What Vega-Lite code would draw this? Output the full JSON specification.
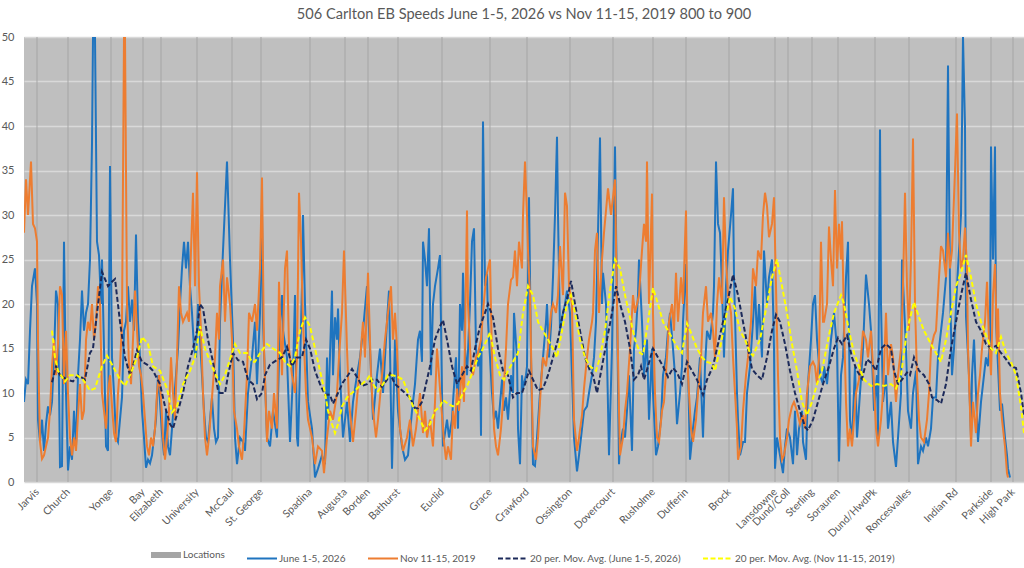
{
  "$schema": "https://vega.github.io/schema/vega-lite/v6.json",
  "width": 1000,
  "height": 445,
  "autosize": "none",
  "padding": {"left": 24, "top": 37, "right": 0, "bottom": 86},
  "background": "white",
  "title": {
    "text": "506 Carlton EB Speeds June 1-5, 2026 vs Nov 11-15, 2019 800 to 900",
    "font": "Lato",
    "fontSize": 14.6,
    "fontWeight": "normal",
    "color": "#595959",
    "anchor": "middle",
    "offset": 9
  },
  "config": {
    "font": "Lato",
    "view": {"fill": "#bfbfbf", "stroke": null},
    "axisX": {"labelOverlap": false}
  },
  "datasets": {
    "locations": [
      {"pos": 37, "name": "Jarvis"}, {"pos": 68, "name": "Church"}, {"pos": 111, "name": "Yonge"},
      {"pos": 143, "name": "Bay"}, {"pos": 161, "name": "Elizabeth"}, {"pos": 197, "name": "University"},
      {"pos": 232, "name": "McCaul"}, {"pos": 261, "name": "St. George"}, {"pos": 310, "name": "Spadina"},
      {"pos": 345, "name": "Augusta"}, {"pos": 368, "name": "Borden"}, {"pos": 398, "name": "Bathurst"},
      {"pos": 442, "name": "Euclid"}, {"pos": 490, "name": "Grace"}, {"pos": 527, "name": "Crawford"},
      {"pos": 570, "name": "Ossington"}, {"pos": 613, "name": "Dovercourt"}, {"pos": 653, "name": "Rusholme"},
      {"pos": 686, "name": "Dufferin"}, {"pos": 729, "name": "Brock"}, {"pos": 775, "name": "Lansdowne"},
      {"pos": 788, "name": "Dund/Coll"}, {"pos": 812, "name": "Sterling"}, {"pos": 838, "name": "Sorauren"},
      {"pos": 875, "name": "Dund/HwdPk"}, {"pos": 909, "name": "Roncesvalles"}, {"pos": 956, "name": "Indian Rd"},
      {"pos": 991, "name": "Parkside"}, {"pos": 1013, "name": "High Park"}
    ],
    "june": [
      {"pos":24,"v":9},{"pos":26,"v":11.5},{"pos":28,"v":11},{"pos":30,"v":17},{"pos":32,"v":22},{"pos":35,"v":24},{"pos":37,"v":20},{"pos":38,"v":7},{"pos":40,"v":4.5},{"pos":42,"v":7},{"pos":44,"v":3.5},{"pos":46,"v":6.5},{"pos":48,"v":8.5},{"pos":50,"v":7.5},{"pos":52,"v":9},{"pos":54,"v":14},{"pos":56,"v":21.5},{"pos":58,"v":20},{"pos":60,"v":1.7},{"pos":62,"v":1.8},{"pos":64,"v":27},{"pos":66,"v":10},{"pos":68,"v":1.3},{"pos":70,"v":4},{"pos":72,"v":2.5},{"pos":74,"v":8},{"pos":76,"v":4},{"pos":78,"v":12},{"pos":80,"v":16},{"pos":82,"v":21.5},{"pos":84,"v":17},{"pos":86,"v":19},{"pos":88,"v":20},{"pos":90,"v":25},{"pos":92,"v":38},{"pos":93,"v":50},{"pos":95,"v":50},{"pos":97,"v":27},{"pos":99,"v":25.5},{"pos":101,"v":20},{"pos":102,"v":25},{"pos":104,"v":15},{"pos":106,"v":4},{"pos":108,"v":3.5},{"pos":110,"v":35.5},{"pos":112,"v":14},{"pos":114,"v":10},{"pos":116,"v":5},{"pos":118,"v":4.5},{"pos":120,"v":7},{"pos":122,"v":9.5},{"pos":124,"v":17},{"pos":126,"v":18},{"pos":128,"v":22},{"pos":130,"v":18},{"pos":132,"v":20.5},{"pos":134,"v":17},{"pos":136,"v":27.8},{"pos":138,"v":18},{"pos":140,"v":14},{"pos":142,"v":8},{"pos":144,"v":5},{"pos":146,"v":1.6},{"pos":148,"v":2.5},{"pos":150,"v":2.1},{"pos":152,"v":3},{"pos":154,"v":5},{"pos":156,"v":7},{"pos":158,"v":12},{"pos":160,"v":9},{"pos":162,"v":5.5},{"pos":164,"v":3},{"pos":166,"v":8},{"pos":168,"v":4},{"pos":170,"v":3},{"pos":172,"v":6},{"pos":174,"v":9},{"pos":176,"v":12},{"pos":178,"v":15},{"pos":180,"v":20},{"pos":182,"v":24},{"pos":184,"v":27},{"pos":186,"v":24},{"pos":188,"v":27},{"pos":190,"v":22},{"pos":192,"v":19},{"pos":194,"v":15},{"pos":196,"v":14},{"pos":198,"v":20},{"pos":200,"v":16},{"pos":202,"v":12},{"pos":204,"v":8},{"pos":206,"v":5},{"pos":208,"v":4.5},{"pos":210,"v":7},{"pos":212,"v":9.5},{"pos":214,"v":6},{"pos":216,"v":4.5},{"pos":218,"v":5},
      {"pos":220,"v":18},{"pos":223,"v":26},{"pos":227,"v":36},{"pos":230,"v":25},{"pos":233,"v":16},{"pos":235,"v":5},{"pos":237,"v":2},{"pos":240,"v":5},{"pos":243,"v":4.5},{"pos":245,"v":3.5},{"pos":248,"v":10},{"pos":252,"v":14},{"pos":255,"v":18},{"pos":257,"v":11},{"pos":260,"v":19},{"pos":262,"v":30.5},{"pos":263,"v":18},{"pos":267,"v":5},{"pos":270,"v":4},{"pos":273,"v":8},{"pos":277,"v":5},{"pos":280,"v":18},{"pos":282,"v":21},{"pos":283,"v":17},{"pos":287,"v":14},{"pos":290,"v":4.5},{"pos":293,"v":12},{"pos":295,"v":21},{"pos":297,"v":5},{"pos":298,"v":4},{"pos":302,"v":22},{"pos":303,"v":30},{"pos":305,"v":20},{"pos":308,"v":9},{"pos":312,"v":6},{"pos":315,"v":0.5},{"pos":318,"v":1.5},{"pos":322,"v":3},{"pos":325,"v":2},{"pos":327,"v":14},{"pos":328,"v":7},{"pos":332,"v":21.5},{"pos":333,"v":12},{"pos":335,"v":18.5},{"pos":337,"v":16},{"pos":338,"v":19.5},{"pos":340,"v":12},{"pos":343,"v":5},{"pos":347,"v":9},{"pos":350,"v":4.5},{"pos":353,"v":9},{"pos":357,"v":12},{"pos":360,"v":14},{"pos":363,"v":17},{"pos":367,"v":22},{"pos":370,"v":15},{"pos":373,"v":7},{"pos":377,"v":12},{"pos":380,"v":15},{"pos":383,"v":10},{"pos":387,"v":18},{"pos":389,"v":21.5},{"pos":392,"v":1.5},{"pos":395,"v":16},{"pos":398,"v":8},{"pos":402,"v":4},{"pos":405,"v":2.5},{"pos":408,"v":3},{"pos":412,"v":8},{"pos":415,"v":11},{"pos":418,"v":16},
      {"pos":420,"v":17},{"pos":422,"v":13.5},{"pos":423,"v":27},{"pos":425,"v":25},{"pos":427,"v":22},{"pos":429,"v":28.5},{"pos":431,"v":12},{"pos":433,"v":20},{"pos":435,"v":22},{"pos":438,"v":24},{"pos":440,"v":25.5},{"pos":442,"v":10},{"pos":443,"v":4},{"pos":447,"v":7},{"pos":449,"v":5},{"pos":452,"v":7},{"pos":453,"v":9},{"pos":456,"v":14},{"pos":458,"v":6},{"pos":460,"v":20},{"pos":462,"v":17},{"pos":463,"v":23.5},{"pos":465,"v":15},{"pos":467,"v":12},{"pos":470,"v":20},{"pos":472,"v":27},{"pos":474,"v":28.5},{"pos":476,"v":15},{"pos":478,"v":13},{"pos":480,"v":15},{"pos":481,"v":5.2},{"pos":483,"v":40.5},{"pos":485,"v":22},{"pos":487,"v":23.4},{"pos":488,"v":18},{"pos":492,"v":10},{"pos":494,"v":7},{"pos":496,"v":8},{"pos":498,"v":6},{"pos":502,"v":11.5},{"pos":504,"v":8},{"pos":506,"v":9.5},{"pos":508,"v":7},{"pos":511,"v":12},{"pos":513,"v":10},{"pos":514,"v":19},{"pos":517,"v":14},{"pos":518,"v":6},{"pos":520,"v":2},{"pos":522,"v":12},{"pos":523,"v":10.5},{"pos":526,"v":12},{"pos":527,"v":13},{"pos":529,"v":32},{"pos":531,"v":14},{"pos":533,"v":2},{"pos":535,"v":1.8},{"pos":537,"v":5},{"pos":540,"v":10},{"pos":543,"v":14},{"pos":546,"v":18},{"pos":547,"v":20},{"pos":549,"v":14},{"pos":551,"v":17.5},{"pos":553,"v":23},{"pos":555,"v":30},{"pos":557,"v":38.8},{"pos":558,"v":30},{"pos":560,"v":17},{"pos":563,"v":19},{"pos":565,"v":20},{"pos":567,"v":21.5},{"pos":570,"v":19},{"pos":572,"v":12},{"pos":574,"v":5},{"pos":577,"v":1.2},{"pos":579,"v":3},{"pos":582,"v":6},{"pos":584,"v":8},{"pos":587,"v":8.5},{"pos":589,"v":10},{"pos":592,"v":12},{"pos":594,"v":14},{"pos":596,"v":18},{"pos":598,"v":28},{"pos":600,"v":38.7},{"pos":602,"v":20},{"pos":603,"v":23.5},{"pos":606,"v":20},{"pos":607,"v":14},{"pos":609,"v":3},{"pos":612,"v":15},{"pos":613,"v":22},{"pos":615,"v":37.7},{"pos":617,"v":20},{"pos":619,"v":2},
      {"pos":620,"v":4},{"pos":623,"v":6},{"pos":625,"v":5},{"pos":627,"v":8},{"pos":629,"v":12},{"pos":632,"v":3.5},{"pos":634,"v":15},{"pos":636,"v":17},{"pos":638,"v":21},{"pos":639,"v":25},{"pos":642,"v":18},{"pos":644,"v":12},{"pos":647,"v":16},{"pos":649,"v":7},{"pos":652,"v":15},{"pos":653,"v":10},{"pos":656,"v":3},{"pos":658,"v":4},{"pos":661,"v":7},{"pos":663,"v":12},{"pos":666,"v":14},{"pos":668,"v":17},{"pos":670,"v":19},{"pos":673,"v":15},{"pos":675,"v":12},{"pos":677,"v":6.5},{"pos":680,"v":10},{"pos":682,"v":13},{"pos":683,"v":18},{"pos":686,"v":24.5},{"pos":688,"v":13},{"pos":690,"v":2.5},{"pos":693,"v":6},{"pos":695,"v":8},{"pos":697,"v":9.5},{"pos":700,"v":14},{"pos":703,"v":5},{"pos":705,"v":13},{"pos":707,"v":17},{"pos":710,"v":16},{"pos":713,"v":19},{"pos":714,"v":22},{"pos":716,"v":36},{"pos":718,"v":29},{"pos":720,"v":28},{"pos":722,"v":22},{"pos":724,"v":14},{"pos":726,"v":22},{"pos":728,"v":26},{"pos":731,"v":30},{"pos":733,"v":33},{"pos":734,"v":23},{"pos":737,"v":10},{"pos":738,"v":7},{"pos":740,"v":3},{"pos":743,"v":4.5},{"pos":745,"v":4.5},{"pos":747,"v":10},{"pos":750,"v":13},{"pos":753,"v":18},{"pos":755,"v":22},{"pos":757,"v":16},{"pos":759,"v":20},{"pos":762,"v":14},{"pos":764,"v":26},{"pos":767,"v":20},{"pos":769,"v":23},{"pos":772,"v":25},{"pos":774,"v":15},{"pos":775,"v":1.5},{"pos":777,"v":5},{"pos":780,"v":3},{"pos":783,"v":1},{"pos":785,"v":4},{"pos":787,"v":6},{"pos":790,"v":5},{"pos":793,"v":2},{"pos":795,"v":8},{"pos":797,"v":3},{"pos":799,"v":6},{"pos":802,"v":8},{"pos":803,"v":4.5},{"pos":806,"v":2.5},{"pos":808,"v":11},{"pos":811,"v":16},{"pos":813,"v":20},{"pos":815,"v":21},{"pos":817,"v":16},{"pos":820,"v":12},{"pos":823,"v":11},
      {"pos":824,"v":13},{"pos":827,"v":11},{"pos":831,"v":16},{"pos":834,"v":19},{"pos":837,"v":15},{"pos":839,"v":2.3},{"pos":841,"v":12},{"pos":843,"v":14},{"pos":846,"v":23},{"pos":848,"v":27},{"pos":850,"v":7},{"pos":852,"v":4.5},{"pos":855,"v":13},{"pos":857,"v":5},{"pos":860,"v":10},{"pos":863,"v":15},{"pos":866,"v":23.3},{"pos":869,"v":20},{"pos":871,"v":17},{"pos":874,"v":8},{"pos":877,"v":12},{"pos":878,"v":5},{"pos":880,"v":39.6},{"pos":881,"v":20},{"pos":883,"v":9},{"pos":886,"v":12},{"pos":888,"v":6},{"pos":891,"v":9},{"pos":893,"v":4.5},{"pos":896,"v":1.7},{"pos":898,"v":5},{"pos":901,"v":10},{"pos":902,"v":25},{"pos":904,"v":20},{"pos":906,"v":15},{"pos":908,"v":8},{"pos":911,"v":6},{"pos":913,"v":10},{"pos":916,"v":12.5},{"pos":918,"v":2},{"pos":921,"v":4},{"pos":923,"v":3.5},{"pos":926,"v":5},{"pos":928,"v":4},{"pos":931,"v":6},{"pos":933,"v":9.5},{"pos":936,"v":9.5},{"pos":938,"v":14},{"pos":941,"v":17},{"pos":943,"v":19},{"pos":946,"v":23},{"pos":948,"v":46.8},{"pos":950,"v":22},{"pos":952,"v":12},{"pos":954,"v":15},{"pos":957,"v":22},{"pos":959,"v":26},{"pos":961,"v":30},{"pos":963,"v":50},{"pos":965,"v":40},{"pos":966,"v":18.6},{"pos":969,"v":12},{"pos":971,"v":5},{"pos":972,"v":12},{"pos":974,"v":16},{"pos":976,"v":10},{"pos":978,"v":4.5},{"pos":981,"v":9},{"pos":983,"v":11},{"pos":986,"v":14},{"pos":988,"v":13},{"pos":990,"v":16},{"pos":991,"v":37.7},{"pos":993,"v":25},{"pos":995,"v":37.7},{"pos":996,"v":18},{"pos":998,"v":13},{"pos":1000,"v":8},{"pos":1002,"v":8.8},{"pos":1005,"v":5},{"pos":1007,"v":3},{"pos":1008,"v":1.5},{"pos":1010,"v":0.5}
    ],
    "nov": [
      {"pos":24,"v":28},{"pos":26,"v":34},{"pos":28,"v":30},{"pos":31,"v":36},{"pos":33,"v":29},{"pos":35,"v":28.5},{"pos":37,"v":27},{"pos":38,"v":16},{"pos":39,"v":10},{"pos":40,"v":4.5},{"pos":42,"v":2.6},{"pos":44,"v":3},{"pos":46,"v":4},{"pos":48,"v":5},{"pos":50,"v":8},{"pos":52,"v":13},{"pos":54,"v":16},{"pos":56,"v":12},{"pos":58,"v":15.5},{"pos":60,"v":22},{"pos":62,"v":21},{"pos":64,"v":11},{"pos":66,"v":17},{"pos":68,"v":10},{"pos":70,"v":5},{"pos":72,"v":3},{"pos":74,"v":5},{"pos":76,"v":3.5},{"pos":78,"v":7.5},{"pos":80,"v":11},{"pos":82,"v":7},{"pos":84,"v":8},{"pos":86,"v":16},{"pos":88,"v":18},{"pos":90,"v":17},{"pos":92,"v":20},{"pos":94,"v":16},{"pos":96,"v":18},{"pos":98,"v":22},{"pos":100,"v":20},{"pos":102,"v":10},{"pos":104,"v":8},{"pos":106,"v":6},{"pos":108,"v":10},{"pos":110,"v":12},{"pos":112,"v":8.5},{"pos":114,"v":5.5},{"pos":116,"v":4.5},{"pos":118,"v":10},{"pos":120,"v":13},{"pos":122,"v":18},{"pos":124,"v":50},{"pos":125,"v":50},{"pos":127,"v":20},{"pos":129,"v":13},{"pos":131,"v":11},{"pos":133,"v":16},{"pos":135,"v":21.5},{"pos":137,"v":17},{"pos":139,"v":13},{"pos":141,"v":12},{"pos":143,"v":10},{"pos":145,"v":7},{"pos":147,"v":4},{"pos":149,"v":3},{"pos":151,"v":5},{"pos":153,"v":4},{"pos":155,"v":6},{"pos":157,"v":10},{"pos":159,"v":12},{"pos":161,"v":9.5},{"pos":163,"v":5},{"pos":165,"v":2.5},{"pos":167,"v":5},{"pos":169,"v":8},{"pos":171,"v":14},{"pos":173,"v":10},{"pos":175,"v":7},{"pos":177,"v":14},{"pos":179,"v":22},{"pos":181,"v":19},{"pos":183,"v":18},{"pos":185,"v":18.5},{"pos":187,"v":19},{"pos":189,"v":18},{"pos":191,"v":26},{"pos":193,"v":32.5},{"pos":195,"v":22},{"pos":197,"v":34.8},{"pos":199,"v":22},{"pos":201,"v":17},{"pos":203,"v":10},{"pos":205,"v":5},{"pos":207,"v":3},{"pos":209,"v":5},{"pos":211,"v":8},{"pos":213,"v":11},{"pos":215,"v":14},{"pos":217,"v":19},{"pos":219,"v":16},
      {"pos":220,"v":22},{"pos":223,"v":25},{"pos":225,"v":18},{"pos":227,"v":23},{"pos":230,"v":20},{"pos":232,"v":16},{"pos":234,"v":8},{"pos":237,"v":6},{"pos":239,"v":4},{"pos":242,"v":2.5},{"pos":244,"v":5.5},{"pos":247,"v":12},{"pos":249,"v":19},{"pos":252,"v":18},{"pos":255,"v":20},{"pos":257,"v":17},{"pos":260,"v":24},{"pos":262,"v":34.2},{"pos":264,"v":15},{"pos":267,"v":4.5},{"pos":269,"v":8},{"pos":272,"v":6},{"pos":274,"v":10},{"pos":277,"v":6},{"pos":279,"v":22.5},{"pos":282,"v":12},{"pos":285,"v":24},{"pos":287,"v":26},{"pos":289,"v":15},{"pos":292,"v":12},{"pos":295,"v":10},{"pos":297,"v":14},{"pos":299,"v":32.5},{"pos":301,"v":27},{"pos":303,"v":18},{"pos":306,"v":10},{"pos":308,"v":7},{"pos":312,"v":5},{"pos":315,"v":2},{"pos":318,"v":4},{"pos":322,"v":3.5},{"pos":324,"v":1},{"pos":327,"v":5},{"pos":330,"v":8},{"pos":333,"v":7},{"pos":337,"v":10},{"pos":339,"v":14},{"pos":342,"v":19},{"pos":344,"v":26},{"pos":347,"v":15},{"pos":349,"v":9},{"pos":353,"v":4.5},{"pos":356,"v":8},{"pos":359,"v":12},{"pos":363,"v":18},{"pos":365,"v":14},{"pos":368,"v":23.5},{"pos":371,"v":12},{"pos":373,"v":8},{"pos":376,"v":5},{"pos":378,"v":7},{"pos":382,"v":12},{"pos":385,"v":16},{"pos":388,"v":19},{"pos":391,"v":22},{"pos":393,"v":16},{"pos":395,"v":19},{"pos":397,"v":15},{"pos":400,"v":6},{"pos":403,"v":3.5},{"pos":407,"v":5},{"pos":410,"v":7},{"pos":413,"v":4},{"pos":416,"v":6},{"pos":419,"v":9},
      {"pos":420,"v":10},{"pos":423,"v":5.5},{"pos":425,"v":8},{"pos":427,"v":5},{"pos":430,"v":7},{"pos":433,"v":4},{"pos":435,"v":9},{"pos":437,"v":15},{"pos":439,"v":12},{"pos":442,"v":7.5},{"pos":444,"v":4.5},{"pos":446,"v":2.5},{"pos":448,"v":4},{"pos":451,"v":2.5},{"pos":453,"v":8},{"pos":455,"v":6},{"pos":457,"v":10.5},{"pos":459,"v":8},{"pos":462,"v":13},{"pos":464,"v":9},{"pos":467,"v":30.5},{"pos":468,"v":20},{"pos":471,"v":13},{"pos":473,"v":12},{"pos":476,"v":14},{"pos":478,"v":14.5},{"pos":481,"v":16},{"pos":483,"v":19},{"pos":486,"v":23},{"pos":488,"v":24},{"pos":490,"v":25},{"pos":492,"v":14},{"pos":494,"v":6},{"pos":496,"v":4},{"pos":498,"v":3},{"pos":501,"v":6},{"pos":503,"v":9},{"pos":506,"v":15},{"pos":508,"v":20},{"pos":511,"v":22.7},{"pos":513,"v":23},{"pos":515,"v":26},{"pos":517,"v":22},{"pos":519,"v":27},{"pos":522,"v":24},{"pos":523,"v":30},{"pos":525,"v":36},{"pos":527,"v":30},{"pos":528,"v":26},{"pos":530,"v":21},{"pos":532,"v":9},{"pos":533,"v":4},{"pos":536,"v":2.5},{"pos":538,"v":5},{"pos":541,"v":11},{"pos":543,"v":14},{"pos":546,"v":13},{"pos":548,"v":15},{"pos":551,"v":19},{"pos":553,"v":20},{"pos":556,"v":19},{"pos":558,"v":21},{"pos":560,"v":26.5},{"pos":563,"v":21},{"pos":565,"v":32.5},{"pos":567,"v":31},{"pos":569,"v":22},{"pos":572,"v":20},{"pos":574,"v":7},{"pos":577,"v":3.5},{"pos":579,"v":5},{"pos":582,"v":7.5},{"pos":584,"v":10.5},{"pos":587,"v":14},{"pos":589,"v":16},{"pos":592,"v":18},{"pos":593,"v":19},{"pos":595,"v":26},{"pos":597,"v":28},{"pos":599,"v":19},{"pos":602,"v":25},{"pos":604,"v":28},{"pos":606,"v":30.5},{"pos":608,"v":33},{"pos":611,"v":30},{"pos":613,"v":32},{"pos":615,"v":34},{"pos":617,"v":20},{"pos":619,"v":8},
      {"pos":620,"v":3},{"pos":623,"v":5},{"pos":625,"v":8},{"pos":627,"v":10},{"pos":630,"v":15},{"pos":633,"v":21},{"pos":635,"v":19},{"pos":637,"v":20},{"pos":639,"v":21},{"pos":642,"v":26},{"pos":644,"v":29},{"pos":646,"v":27},{"pos":647,"v":36},{"pos":649,"v":20},{"pos":652,"v":32.4},{"pos":653,"v":19},{"pos":655,"v":10},{"pos":657,"v":5},{"pos":659,"v":4.5},{"pos":662,"v":8},{"pos":664,"v":9},{"pos":667,"v":14},{"pos":669,"v":18},{"pos":672,"v":20},{"pos":674,"v":17},{"pos":676,"v":23.5},{"pos":678,"v":18},{"pos":681,"v":23},{"pos":683,"v":20},{"pos":686,"v":30.5},{"pos":688,"v":12},{"pos":691,"v":6},{"pos":693,"v":4.5},{"pos":696,"v":7},{"pos":698,"v":10},{"pos":701,"v":14},{"pos":703,"v":19},{"pos":706,"v":22},{"pos":708,"v":18},{"pos":711,"v":19},{"pos":713,"v":17},{"pos":715,"v":14},{"pos":717,"v":20},{"pos":719,"v":23},{"pos":722,"v":20},{"pos":724,"v":32},{"pos":726,"v":25},{"pos":728,"v":21},{"pos":731,"v":19},{"pos":733,"v":14},{"pos":735,"v":10},{"pos":737,"v":6},{"pos":738,"v":2.5},{"pos":741,"v":4},{"pos":743,"v":8},{"pos":746,"v":12},{"pos":748,"v":14},{"pos":751,"v":18},{"pos":753,"v":24},{"pos":756,"v":22},{"pos":758,"v":26},{"pos":761,"v":25},{"pos":763,"v":30},{"pos":765,"v":32.5},{"pos":767,"v":31},{"pos":769,"v":27.5},{"pos":772,"v":29},{"pos":774,"v":32},{"pos":776,"v":22},{"pos":778,"v":12},{"pos":780,"v":5},{"pos":782,"v":2.5},{"pos":784,"v":3},{"pos":787,"v":5},{"pos":789,"v":7},{"pos":792,"v":8.5},{"pos":794,"v":9},{"pos":797,"v":8},{"pos":800,"v":6.5},{"pos":803,"v":7.5},{"pos":805,"v":6},{"pos":807,"v":10},{"pos":810,"v":13},{"pos":813,"v":13.5},{"pos":815,"v":13},{"pos":817,"v":11},{"pos":819,"v":14},{"pos":821,"v":27},{"pos":823,"v":18},
      {"pos":824,"v":18},{"pos":827,"v":20},{"pos":829,"v":28.7},{"pos":831,"v":25},{"pos":833,"v":22},{"pos":835,"v":32.8},{"pos":837,"v":24},{"pos":839,"v":29},{"pos":841,"v":25},{"pos":842,"v":29.3},{"pos":844,"v":18},{"pos":846,"v":9},{"pos":848,"v":4},{"pos":850,"v":6},{"pos":852,"v":4},{"pos":854,"v":7},{"pos":856,"v":10},{"pos":859,"v":11.5},{"pos":861,"v":14},{"pos":863,"v":17},{"pos":866,"v":16},{"pos":868,"v":14},{"pos":871,"v":17},{"pos":873,"v":13},{"pos":876,"v":6},{"pos":878,"v":4},{"pos":881,"v":7},{"pos":883,"v":10},{"pos":886,"v":19},{"pos":888,"v":12},{"pos":891,"v":15.5},{"pos":893,"v":14},{"pos":896,"v":9},{"pos":898,"v":12},{"pos":901,"v":15},{"pos":903,"v":22},{"pos":905,"v":32.5},{"pos":907,"v":22},{"pos":909,"v":17},{"pos":911,"v":25},{"pos":913,"v":38.6},{"pos":915,"v":20},{"pos":917,"v":12},{"pos":919,"v":7},{"pos":921,"v":5},{"pos":924,"v":4.5},{"pos":927,"v":7},{"pos":929,"v":10},{"pos":931,"v":15},{"pos":934,"v":16.5},{"pos":936,"v":17},{"pos":939,"v":23},{"pos":941,"v":26.5},{"pos":943,"v":26},{"pos":946,"v":23},{"pos":948,"v":28},{"pos":950,"v":24},{"pos":952,"v":26},{"pos":955,"v":35},{"pos":957,"v":41.4},{"pos":959,"v":28},{"pos":961,"v":24},{"pos":963,"v":25},{"pos":965,"v":28.6},{"pos":967,"v":24},{"pos":968,"v":15},{"pos":970,"v":8},{"pos":971,"v":4},{"pos":973,"v":9},{"pos":976,"v":5.5},{"pos":978,"v":10},{"pos":980,"v":12},{"pos":982,"v":15},{"pos":985,"v":18},{"pos":987,"v":22.5},{"pos":989,"v":16},{"pos":991,"v":12},{"pos":993,"v":21},{"pos":995,"v":24.5},{"pos":997,"v":15},{"pos":998,"v":19.5},{"pos":1000,"v":10},{"pos":1002,"v":7},{"pos":1005,"v":4},{"pos":1007,"v":1},{"pos":1008,"v":0.5}
    ],
    "maJune": [
      {"pos":52,"v":11.2},{"pos":56,"v":13},{"pos":60,"v":12},{"pos":67,"v":11.5},{"pos":73,"v":11.3},{"pos":78,"v":12},{"pos":85,"v":11.5},{"pos":90,"v":14.5},{"pos":93,"v":15},{"pos":97,"v":19},{"pos":102,"v":23.6},{"pos":105,"v":22.8},{"pos":108,"v":22},{"pos":112,"v":22.5},{"pos":115,"v":22.8},{"pos":120,"v":18},{"pos":125,"v":14},{"pos":130,"v":12},{"pos":133,"v":13},{"pos":137,"v":14.8},{"pos":142,"v":13.5},{"pos":147,"v":13.2},{"pos":153,"v":12.5},{"pos":160,"v":11},{"pos":165,"v":8.5},{"pos":170,"v":6.5},{"pos":173,"v":6},{"pos":178,"v":8},{"pos":183,"v":10},{"pos":188,"v":13},{"pos":193,"v":15},{"pos":197,"v":17},{"pos":200,"v":20},{"pos":203,"v":19.5},{"pos":208,"v":16},{"pos":213,"v":13.5},{"pos":218,"v":10.3},
      {"pos":220,"v":10},{"pos":225,"v":10},{"pos":228,"v":12},{"pos":233,"v":14.5},{"pos":238,"v":13.7},{"pos":243,"v":13.5},{"pos":248,"v":11.5},{"pos":253,"v":11},{"pos":257,"v":9.3},{"pos":262,"v":10},{"pos":265,"v":12},{"pos":270,"v":13.2},{"pos":277,"v":13.7},{"pos":282,"v":14},{"pos":287,"v":15.2},{"pos":292,"v":13},{"pos":297,"v":14},{"pos":302,"v":14},{"pos":306,"v":16},{"pos":310,"v":15},{"pos":315,"v":12.5},{"pos":320,"v":11},{"pos":325,"v":9.8},{"pos":330,"v":9.8},{"pos":333,"v":8.8},{"pos":338,"v":10},{"pos":343,"v":11.2},{"pos":348,"v":12},{"pos":352,"v":12.7},{"pos":357,"v":11.8},{"pos":362,"v":10.8},{"pos":367,"v":11},{"pos":372,"v":11.5},{"pos":377,"v":11.5},{"pos":382,"v":10.7},{"pos":387,"v":11.5},{"pos":390,"v":12.2},{"pos":395,"v":11},{"pos":400,"v":10.5},{"pos":405,"v":10},{"pos":410,"v":9.5},{"pos":415,"v":8.3},{"pos":418,"v":8.3},
      {"pos":422,"v":9},{"pos":425,"v":10.5},{"pos":430,"v":13},{"pos":435,"v":16},{"pos":440,"v":17.5},{"pos":443,"v":18.2},{"pos":447,"v":16},{"pos":452,"v":13},{"pos":457,"v":11},{"pos":462,"v":12},{"pos":467,"v":13},{"pos":471,"v":12.5},{"pos":475,"v":15},{"pos":480,"v":17.5},{"pos":485,"v":19},{"pos":488,"v":20},{"pos":493,"v":18.5},{"pos":498,"v":15},{"pos":503,"v":12.5},{"pos":508,"v":12},{"pos":513,"v":9.5},{"pos":517,"v":10},{"pos":522,"v":10},{"pos":525,"v":11},{"pos":529,"v":12.5},{"pos":533,"v":11.5},{"pos":538,"v":10.3},{"pos":543,"v":10.5},{"pos":548,"v":12},{"pos":553,"v":14},{"pos":558,"v":16},{"pos":563,"v":19},{"pos":568,"v":21},{"pos":571,"v":22.6},{"pos":575,"v":20},{"pos":580,"v":17},{"pos":585,"v":14},{"pos":590,"v":12.5},{"pos":593,"v":12},{"pos":597,"v":10},{"pos":602,"v":13},{"pos":607,"v":16},{"pos":612,"v":19},{"pos":616,"v":22},
      {"pos":620,"v":20},{"pos":625,"v":18},{"pos":630,"v":15},{"pos":634,"v":11.5},{"pos":638,"v":12},{"pos":641,"v":13},{"pos":644,"v":11.5},{"pos":648,"v":13},{"pos":653,"v":15},{"pos":658,"v":14},{"pos":663,"v":13},{"pos":668,"v":11.8},{"pos":673,"v":12.8},{"pos":677,"v":12.3},{"pos":682,"v":11},{"pos":687,"v":13.5},{"pos":692,"v":12.5},{"pos":697,"v":11.5},{"pos":703,"v":9.8},{"pos":707,"v":11.5},{"pos":713,"v":13},{"pos":718,"v":15.5},{"pos":723,"v":18},{"pos":728,"v":20.5},{"pos":733,"v":23.3},{"pos":738,"v":21},{"pos":743,"v":18},{"pos":748,"v":15},{"pos":752,"v":12.7},{"pos":757,"v":12},{"pos":762,"v":11.5},{"pos":767,"v":14},{"pos":772,"v":17},{"pos":776,"v":18.8},{"pos":780,"v":18},{"pos":785,"v":15.5},{"pos":790,"v":12.5},{"pos":795,"v":10},{"pos":800,"v":8},{"pos":805,"v":6.2},{"pos":808,"v":5.8},{"pos":813,"v":7},{"pos":818,"v":9},{"pos":823,"v":11},
      {"pos":829,"v":13},{"pos":834,"v":15},{"pos":838,"v":16.2},{"pos":842,"v":15.5},{"pos":847,"v":16.5},{"pos":852,"v":14},{"pos":857,"v":12.5},{"pos":862,"v":11.6},{"pos":867,"v":13.8},{"pos":872,"v":13.3},{"pos":876,"v":12.5},{"pos":881,"v":15},{"pos":886,"v":15.5},{"pos":891,"v":15},{"pos":894,"v":12.5},{"pos":898,"v":11},{"pos":902,"v":11.5},{"pos":907,"v":12.3},{"pos":910,"v":12},{"pos":914,"v":14},{"pos":919,"v":12.5},{"pos":924,"v":12},{"pos":929,"v":11},{"pos":932,"v":9.5},{"pos":937,"v":9.2},{"pos":941,"v":8.8},{"pos":946,"v":11},{"pos":951,"v":15},{"pos":956,"v":18},{"pos":961,"v":21},{"pos":966,"v":23.5},{"pos":971,"v":20.5},{"pos":976,"v":18},{"pos":981,"v":17},{"pos":986,"v":15.5},{"pos":991,"v":15},{"pos":996,"v":15.3},{"pos":1001,"v":14.5},{"pos":1006,"v":13.8},{"pos":1011,"v":13},{"pos":1016,"v":12.8},{"pos":1021,"v":10},{"pos":1024,"v":7.5}
    ],
    "maNov": [
      {"pos":52,"v":17},{"pos":55,"v":14},{"pos":58,"v":12.5},{"pos":65,"v":11.3},{"pos":70,"v":12},{"pos":77,"v":12},{"pos":83,"v":11.5},{"pos":90,"v":10.3},{"pos":95,"v":10.5},{"pos":102,"v":13},{"pos":107,"v":14.2},{"pos":113,"v":13},{"pos":120,"v":11.5},{"pos":125,"v":10.8},{"pos":130,"v":12},{"pos":137,"v":14},{"pos":142,"v":16.3},{"pos":148,"v":15.5},{"pos":153,"v":13},{"pos":160,"v":12.5},{"pos":167,"v":10.5},{"pos":172,"v":7.8},{"pos":177,"v":8.5},{"pos":183,"v":11},{"pos":190,"v":12.5},{"pos":195,"v":14},{"pos":200,"v":17.5},{"pos":205,"v":15},{"pos":212,"v":13},{"pos":218,"v":11.5},
      {"pos":220,"v":11},{"pos":225,"v":12},{"pos":230,"v":13.8},{"pos":235,"v":15.5},{"pos":240,"v":14.5},{"pos":247,"v":14.5},{"pos":252,"v":13.5},{"pos":255,"v":13.5},{"pos":260,"v":14.5},{"pos":267,"v":15.5},{"pos":273,"v":15},{"pos":280,"v":14.5},{"pos":285,"v":13.5},{"pos":290,"v":13},{"pos":295,"v":14},{"pos":300,"v":17},{"pos":305,"v":18.5},{"pos":310,"v":17.5},{"pos":315,"v":15},{"pos":320,"v":12.5},{"pos":325,"v":10},{"pos":328,"v":8},{"pos":332,"v":6.5},{"pos":335,"v":5.5},{"pos":338,"v":6.5},{"pos":342,"v":8.5},{"pos":347,"v":9.5},{"pos":352,"v":10},{"pos":357,"v":10.5},{"pos":362,"v":11},{"pos":367,"v":11.5},{"pos":370,"v":12},{"pos":373,"v":11},{"pos":378,"v":10.2},{"pos":383,"v":11},{"pos":388,"v":12},{"pos":393,"v":12},{"pos":398,"v":11.8},{"pos":403,"v":11.5},{"pos":408,"v":10},{"pos":413,"v":8.5},{"pos":418,"v":7.5},
      {"pos":420,"v":7},{"pos":425,"v":5.8},{"pos":430,"v":6.5},{"pos":435,"v":8},{"pos":440,"v":8.5},{"pos":443,"v":9.2},{"pos":448,"v":8.8},{"pos":453,"v":8.5},{"pos":458,"v":8.8},{"pos":463,"v":10},{"pos":468,"v":11},{"pos":473,"v":12.5},{"pos":478,"v":14},{"pos":483,"v":15},{"pos":490,"v":16.8},{"pos":495,"v":14},{"pos":500,"v":12},{"pos":504,"v":11.5},{"pos":508,"v":12.5},{"pos":513,"v":13.5},{"pos":518,"v":14.5},{"pos":523,"v":19},{"pos":528,"v":22},{"pos":533,"v":21},{"pos":538,"v":18},{"pos":543,"v":17},{"pos":548,"v":16},{"pos":553,"v":15},{"pos":557,"v":14},{"pos":562,"v":17},{"pos":567,"v":20},{"pos":571,"v":21},{"pos":575,"v":19},{"pos":580,"v":16},{"pos":585,"v":14},{"pos":590,"v":13},{"pos":596,"v":12.5},{"pos":600,"v":14},{"pos":605,"v":17},{"pos":610,"v":21.5},{"pos":615,"v":25},
      {"pos":620,"v":24},{"pos":625,"v":21},{"pos":630,"v":18.5},{"pos":635,"v":16},{"pos":640,"v":14.5},{"pos":643,"v":14.3},{"pos":648,"v":18},{"pos":653,"v":21.8},{"pos":658,"v":20},{"pos":663,"v":18},{"pos":668,"v":17},{"pos":673,"v":16},{"pos":678,"v":15},{"pos":682,"v":14.5},{"pos":687,"v":17.8},{"pos":692,"v":16.5},{"pos":697,"v":15},{"pos":702,"v":14},{"pos":707,"v":13.5},{"pos":712,"v":13.3},{"pos":715,"v":12.5},{"pos":720,"v":15},{"pos":725,"v":18},{"pos":730,"v":20.8},{"pos":735,"v":19.5},{"pos":740,"v":17},{"pos":745,"v":16},{"pos":750,"v":14.5},{"pos":753,"v":14.2},{"pos":760,"v":16},{"pos":767,"v":20},{"pos":772,"v":23},{"pos":777,"v":25},{"pos":782,"v":22},{"pos":787,"v":19},{"pos":792,"v":15.5},{"pos":797,"v":12.5},{"pos":802,"v":9},{"pos":807,"v":7.5},{"pos":812,"v":9},{"pos":817,"v":11},{"pos":822,"v":12.5},
      {"pos":829,"v":16.5},{"pos":834,"v":19},{"pos":841,"v":21},{"pos":844,"v":20},{"pos":849,"v":17},{"pos":854,"v":14.5},{"pos":859,"v":13},{"pos":864,"v":11.5},{"pos":871,"v":10.8},{"pos":877,"v":11},{"pos":884,"v":10.8},{"pos":891,"v":11},{"pos":896,"v":10.5},{"pos":901,"v":12},{"pos":907,"v":17},{"pos":914,"v":20.2},{"pos":919,"v":18.5},{"pos":924,"v":17},{"pos":931,"v":15.5},{"pos":936,"v":14.5},{"pos":941,"v":13.5},{"pos":946,"v":16},{"pos":951,"v":19},{"pos":956,"v":22},{"pos":961,"v":23.5},{"pos":966,"v":25.5},{"pos":971,"v":23},{"pos":976,"v":20},{"pos":981,"v":18},{"pos":986,"v":16.5},{"pos":991,"v":15},{"pos":996,"v":14.5},{"pos":1001,"v":16.3},{"pos":1006,"v":14.5},{"pos":1011,"v":13.5},{"pos":1016,"v":12},{"pos":1021,"v":8.5},{"pos":1024,"v":5.5}
    ]
  },
  "encoding": {
    "x": {
      "field": "pos",
      "type": "quantitative",
      "scale": {"domain": [24, 1024], "nice": false, "zero": false},
      "axis": {
        "title": null,
        "grid": false,
        "ticks": false,
        "domain": false,
        "values": [37, 68, 111, 143, 161, 197, 232, 261, 310, 345, 368, 398, 442, 490, 527, 570, 613, 653, 686, 729, 775, 788, 812, 838, 875, 909, 956, 991, 1013],
        "labelExpr": "['Jarvis','Church','Yonge','Bay','Elizabeth','University','McCaul','St. George','Spadina','Augusta','Borden','Bathurst','Euclid','Grace','Crawford','Ossington','Dovercourt','Rusholme','Dufferin','Brock','Lansdowne','Dund/Coll','Sterling','Sorauren','Dund/HwdPk','Roncesvalles','Indian Rd','Parkside','High Park'][indexof([37,68,111,143,161,197,232,261,310,345,368,398,442,490,527,570,613,653,686,729,775,788,812,838,875,909,956,991,1013], datum.value)]",
        "labelAngle": -45,
        "labelAlign": "right",
        "labelBaseline": "middle",
        "labelPadding": 8,
        "labelFontSize": 10.5,
        "labelColor": "#595959",
        "labelOverlap": false,
        "labelFlush": false,
        "labelBound": false
      }
    }
  },
  "layer": [
    {
      "data": {"name": "locations"},
      "mark": {"type": "rule", "strokeWidth": 1},
      "encoding": {
        "y": {"datum": 0},
        "y2": {"datum": 50},
        "color": {
          "datum": "Locations",
          "scale": {
            "domain": ["Locations", "June 1-5, 2026", "Nov 11-15, 2019", "20 per. Mov. Avg. (June 1-5, 2026)", "20 per. Mov. Avg. (Nov 11-15, 2019)"],
            "range": ["#a5a5a5", "#1f74bf", "#ed7d31", "#1c2a5a", "#ffff00"]
          },
          "legend": {
            "title": null,
            "orient": "none",
            "direction": "horizontal",
            "legendX": 137,
            "legendY": 513,
            "symbolType": "stroke",
            "symbolSize": 900,
            "symbolStrokeWidth": 2,
            "labelFontSize": 10,
            "labelColor": "#595959",
            "labelOffset": 12,
            "labelLimit": 400,
            "columnPadding": 18,
            "encode": {
              "symbols": {
                "update": {
                  "strokeDash": {"signal": "indexof(datum.value, 'Mov.') >= 0 ? [5, 2.5] : [1, 0]"},
                  "strokeWidth": {"signal": "datum.value === 'Locations' ? 6 : 2"}
                }
              }
            }
          }
        }
      }
    },
    {
      "data": {"name": "june"},
      "mark": {"type": "line", "strokeWidth": 2, "clip": true},
      "encoding": {
        "y": {
          "field": "v",
          "type": "quantitative",
          "scale": {"domain": [0, 50], "nice": false},
          "axis": {
            "title": null,
            "values": [0, 5, 10, 15, 20, 25, 30, 35, 40, 45, 50],
            "grid": true,
            "gridColor": "#d9d9d9",
            "gridWidth": 1.5,
            "ticks": false,
            "domain": false,
            "labelPadding": 10,
            "labelFontSize": 11,
            "labelColor": "#595959"
          }
        },
        "color": {"datum": "June 1-5, 2026"}
      }
    },
    {
      "data": {"name": "nov"},
      "mark": {"type": "line", "strokeWidth": 2, "clip": true},
      "encoding": {
        "y": {"field": "v", "type": "quantitative"},
        "color": {"datum": "Nov 11-15, 2019"}
      }
    },
    {
      "data": {"name": "maJune"},
      "mark": {"type": "line", "strokeWidth": 2, "strokeDash": [5, 2.5], "clip": true},
      "encoding": {
        "y": {"field": "v", "type": "quantitative"},
        "color": {"datum": "20 per. Mov. Avg. (June 1-5, 2026)"}
      }
    },
    {
      "data": {"name": "maNov"},
      "mark": {"type": "line", "strokeWidth": 2, "strokeDash": [5, 2.5], "clip": true},
      "encoding": {
        "y": {"field": "v", "type": "quantitative"},
        "color": {"datum": "20 per. Mov. Avg. (Nov 11-15, 2019)"}
      }
    }
  ]
}
